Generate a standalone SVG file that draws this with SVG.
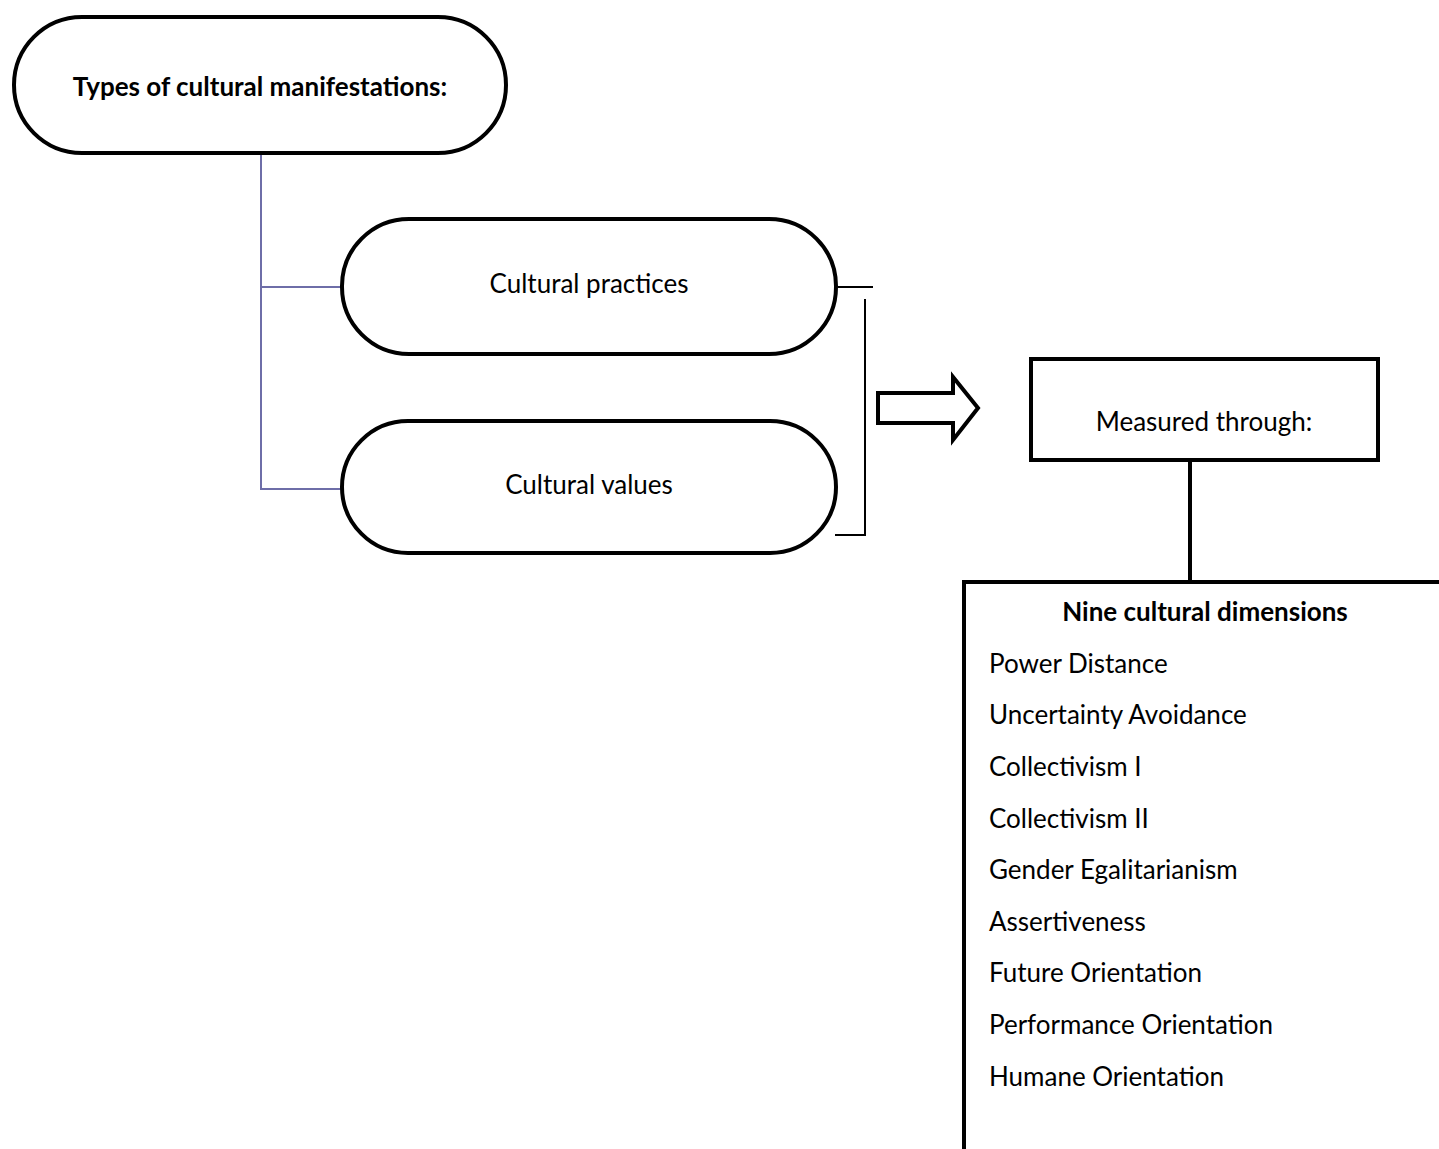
<svg xmlns="http://www.w3.org/2000/svg" width="1439" height="1149" viewBox="0 0 1439 1149">
<style>
.node{fill:#fff;stroke:#000;stroke-width:4}
.t{font-family:Lato,"Liberation Sans",sans-serif;font-size:26px;fill:#000}
.b{font-weight:bold}
.c{text-anchor:middle}
.purple{stroke:#6e6ea8;stroke-width:2;fill:none}
.thin{stroke:#000;stroke-width:2;fill:none}
</style>
<rect width="1439" height="1149" fill="#fff"/>
<g id="connectors">
<polyline class="purple" points="261,153 261,489 341,489"/>
<line class="purple" x1="261" y1="287" x2="341" y2="287"/>
<line class="thin" x1="838" y1="287" x2="873" y2="287"/>
<polyline class="thin" points="865,299 865,535 835,535"/>
<polygon id="block-arrow" points="878,393 953,393 953,377 978,408 953,440 953,423 878,423" fill="#fff" stroke="#000" stroke-width="4"/>
<line x1="1190" y1="461" x2="1190" y2="581" stroke="#000" stroke-width="4"/>
</g>
<g id="types">
<rect class="node" x="14" y="17" width="492" height="136" rx="68"/>
<text class="t b c" x="260" y="96">Types of cultural manifestations:</text>
</g>
<g id="practices">
<rect class="node" x="342" y="219" width="494" height="135" rx="67"/>
<text class="t c" x="589" y="293">Cultural practices</text>
</g>
<g id="values">
<rect class="node" x="342" y="421" width="494" height="132" rx="66"/>
<text class="t c" x="589" y="494">Cultural values</text>
</g>
<g id="measured">
<rect class="node" x="1031" y="359" width="347" height="101" fill="#fff"/>
<text class="t c" x="1204" y="431">Measured through:</text>
</g>
<g id="dimensions">
<rect class="node" x="964" y="582" width="490" height="600"/>
<text class="t b c" x="1205" y="621">Nine cultural dimensions</text>
<text class="t" x="989" y="673">Power Distance</text>
<text class="t" x="989" y="724">Uncertainty Avoidance</text>
<text class="t" x="989" y="776">Collectivism I</text>
<text class="t" x="989" y="828">Collectivism II</text>
<text class="t" x="989" y="879">Gender Egalitarianism</text>
<text class="t" x="989" y="931">Assertiveness</text>
<text class="t" x="989" y="982">Future Orientation</text>
<text class="t" x="989" y="1034">Performance Orientation</text>
<text class="t" x="989" y="1086">Humane Orientation</text>
</g>
</svg>
